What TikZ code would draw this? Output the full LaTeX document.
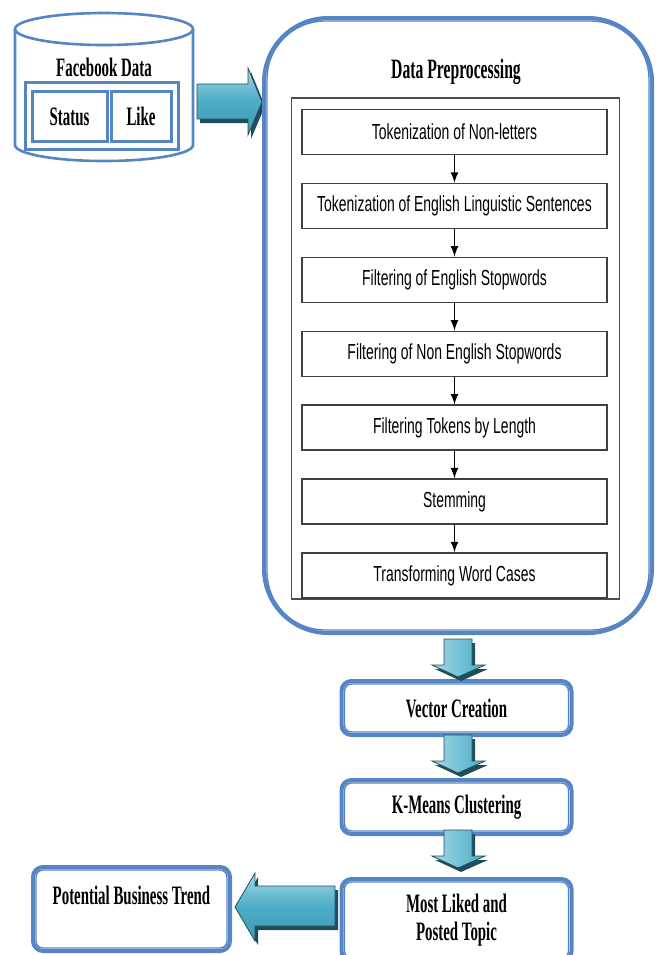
\documentclass[tikz,border=0pt]{standalone}
\usepackage{fontspec}
\setmainfont{Liberation Serif}
\newfontfamily\labelfont[FakeStretch=0.56]{Liberation Serif}
\newfontfamily\stepfont[FakeStretch=0.64]{Liberation Sans}
\usetikzlibrary{calc,positioning}

\definecolor{frameblue}{HTML}{5585C4}
\definecolor{arrowteal}{HTML}{4BACC6}
\definecolor{arrowlight}{HTML}{A5D8E6}
\definecolor{arrowdark}{HTML}{1F4E5A}

\tikzset{
  label text/.style={font=\labelfont\bfseries\fontsize{13.3}{14}\selectfont},
  stepbox/.style={draw=gray!50!black, line width=0.7pt, minimum width=152.5pt, minimum height=22.5pt,
    inner sep=0pt, font=\stepfont\fontsize{10.9}{12}\selectfont},
  cell/.style={draw=frameblue, line width=1.5pt, minimum height=25pt, inner sep=0pt, label text},
  resultbox/.style={draw=frameblue, line width=2pt, rounded corners=5pt, minimum width=115pt,
    inner sep=0pt, align=center, label text},
  innerline/.style={draw=frameblue, line width=0.7pt, rounded corners=3.5pt},
  blockarrow/.style={draw=arrowdark, line width=0.4pt,
    preaction={fill=arrowdark, transform canvas={shift={(1.5pt,-2pt)}}}},
}

% block arrow pointing down: centre x, top y, tip y (pixels)
\newcommand{\downblock}[3]{%
  \shadedraw[blockarrow, left color=arrowlight, right color=arrowteal]
    (#1-14,-#2) -- (#1+14,-#2) -- (#1+14,-#3+12) -- (#1+27,-#3+12) -- (#1,-#3)
    -- (#1-26,-#3+12) -- (#1-14,-#3+12) -- cycle;}

\begin{document}
\begin{tikzpicture}[x=0.5pt, y=0.5pt, >=latex]
\useasboundingbox (0,0) rectangle (658,-955);

% Facebook data store
\draw[frameblue, line width=1.3pt] (15,-29) -- (15,-145)
  arc[start angle=180, end angle=360, x radius=89, y radius=16] -- (193,-29);
\draw[frameblue, line width=1.3pt] (104,-29) ellipse[x radius=89, y radius=16];
\node[label text] (fbtitle) at (104,-67) {Facebook Data};
\node[draw=frameblue, line width=1.5pt, minimum width=76.5pt, minimum height=33.5pt] (record) at (101.5,-115.5) {};
\node[cell, minimum width=37.5pt] (status) at (69.5,-116.5) {Status};
\node[cell, minimum width=30pt] (like) at (141,-116.5) {Like};

% Arrow into preprocessing
\shadedraw[blockarrow, top color=arrowlight, bottom color=arrowteal!90!black, middle color=arrowteal]
  (197,-84) -- (248,-84) -- (248,-68) -- (262,-102) -- (248,-135) -- (248,-119) -- (197,-119) -- cycle;

% Preprocessing frame
\node[draw=frameblue, line width=2pt, rounded corners=32pt, minimum width=194pt, minimum height=307.5pt] (prep) at (458,-325.5) {};
\draw[innerline, rounded corners=29pt] ($(prep.south west)+(5,5)$) rectangle ($(prep.north east)+(-5,-5)$);
\node[label text, font=\labelfont\bfseries\fontsize{14}{15}\selectfont] (preptitle) at (456,-72) {Data Preprocessing};
\node[draw=gray!60!black, line width=0.8pt, minimum width=164pt, minimum height=250.5pt] (steps) at (455.5,-348.5) {};

% Preprocessing steps
\node[stepbox] (nonletters) at (454.5,-132) {Tokenization of Non-letters};
\node[stepbox, below=13.75pt of nonletters] (sentences) {Tokenization of English Linguistic Sentences};
\node[stepbox, below=13.75pt of sentences] (engstop) {Filtering of English Stopwords};
\node[stepbox, below=13.75pt of engstop] (nonengstop) {Filtering of Non English Stopwords};
\node[stepbox, below=13.75pt of nonengstop] (length) {Filtering Tokens by Length};
\node[stepbox, below=13.75pt of length] (stemming) {Stemming};
\node[stepbox, below=13.75pt of stemming] (wordcase) {Transforming Word Cases};

\draw[->, line width=0.8pt] (nonletters) -- (sentences);
\draw[->, line width=0.8pt] (sentences) -- (engstop);
\draw[->, line width=0.8pt] (engstop) -- (nonengstop);
\draw[->, line width=0.8pt] (nonengstop) -- (length);
\draw[->, line width=0.8pt] (length) -- (stemming);
\draw[->, line width=0.8pt] (stemming) -- (wordcase);

% Later stages
\node[resultbox, minimum height=27pt] (vector) at (456.5,-708) {Vector Creation};
\node[resultbox, minimum height=27pt, below=20.5pt of vector] (kmeans) {K-Means Clustering};
\node[resultbox, minimum height=41pt, below=20.5pt of kmeans] (topic) {Most Liked and\\Posted Topic};
\node[resultbox, minimum width=98.5pt, minimum height=42pt] (trend) at (131.5,-909) {};
\node[label text, below=7pt of trend.north] (trendtext) {Potential Business Trend};
\foreach \n in {vector,kmeans,topic,trend}
  \draw[innerline] ($(\n.south west)+(5,5)$) rectangle ($(\n.north east)+(-5,-5)$);

\downblock{458}{639}{677}
\downblock{458}{735}{773}
\downblock{458}{830}{868}

% Arrow to the trend box
\shadedraw[blockarrow, top color=arrowlight, bottom color=arrowteal!90!black, middle color=arrowteal]
  (335,-886) -- (255,-886) -- (255,-873) -- (235,-907) -- (255,-941) -- (255,-926) -- (335,-926) -- cycle;
\end{tikzpicture}
\end{document}
